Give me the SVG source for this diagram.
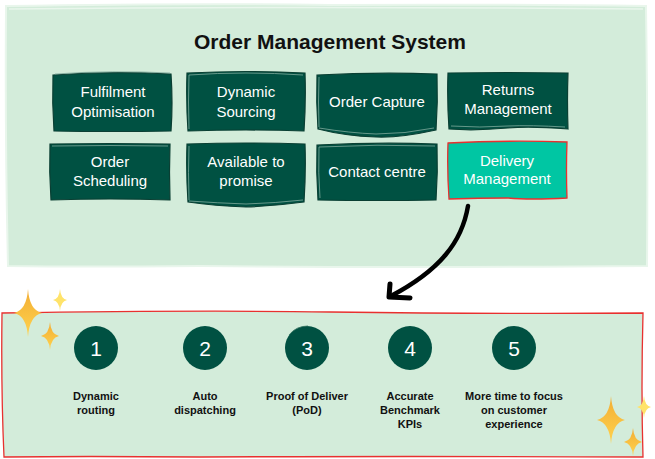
<svg xmlns="http://www.w3.org/2000/svg" width="655" height="459" viewBox="0 0 655 459">
<defs>
<style>
.panel{fill:#d3ecda;stroke:#e9f6ec;stroke-width:2}
.box{fill:#005142;stroke:#0a3f33;stroke-width:1.2}
.boxhl{fill:#00c6a3;stroke:#e8302f;stroke-width:1.3}
.sk{fill:none;stroke:#7fa99c;stroke-width:0.8}
.bt{font-family:"Liberation Sans",Arial,sans-serif;font-size:15px;fill:#ffffff;text-anchor:middle}
.title{font-family:"Liberation Sans",Arial,sans-serif;font-size:21px;font-weight:bold;fill:#111111;text-anchor:middle}
.num{font-family:"Liberation Sans",Arial,sans-serif;font-size:21px;fill:#ffffff;text-anchor:middle}
.lab{font-family:"Liberation Sans",Arial,sans-serif;font-size:11px;font-weight:bold;fill:#111111;text-anchor:middle}
.circ{fill:#005142}
.gold{fill:url(#gg)}
.lite{fill:#ffe36a}
</style>
<linearGradient id="gg" x1="0" y1="0" x2="0" y2="1">
<stop offset="0" stop-color="#f2ad34"/>
<stop offset="1" stop-color="#ffd34e"/>
</linearGradient>
<path id="star" d="M0,-1 Q0.1,-0.12 1,0 Q0.1,0.12 0,1 Q-0.1,0.12 -1,0 Q-0.1,-0.12 0,-1Z"/>
</defs>

<g id="top-panel">
<path class="panel" d="M6,6 Q200,3 330,5 Q500,4 646,6 Q648,140 647,266 Q400,268 200,266 Q80,267 8,266 Q5,140 6,6Z"/>
<path fill="none" stroke="#e9f6ec" stroke-width="1.5" d="M9,9 Q300,6 643,9"/>
</g>

<text class="title" x="330" y="49">Order Management System</text>

<g id="node-fulfilment">
<path class="box" d="M53,75 Q110,71 171,74 Q173,103 171,131 Q110,132 54,131 Q52,103 53,75Z"/>
<path class="sk" d="M55,74 Q112,70 170,73"/>
<text class="bt" x="113" y="97">Fulfilment</text>
<text class="bt" x="113" y="117">Optimisation</text>
</g>

<g id="node-dynamic-sourcing">
<path class="box" d="M187,73 Q246,70 305,73 Q306,102 304,131 Q246,129 188,131 Q186,102 187,73Z"/>
<path class="sk" d="M189,75 Q246,71 303,75"/>
<path class="sk" d="M189,75 Q188,102 189,129"/>
<text class="bt" x="246" y="97">Dynamic</text>
<text class="bt" x="246" y="117">Sourcing</text>
</g>

<g id="node-order-capture">
<path class="box" d="M317,75 Q377,72 437,74 Q438,102 436,130 Q400,138 376,137 Q345,136 318,129 Q316,102 317,75Z"/>
<path class="sk" d="M319,128 Q350,133 376,134 Q405,134 434,128"/>
<path class="sk" d="M319,77 Q318,102 319,127"/>
<text class="bt" x="377" y="107">Order Capture</text>
</g>

<g id="node-returns">
<path class="box" d="M448,73 Q508,72 568,73 Q567,100 568,129 Q530,126 508,128 Q475,131 449,129 Q447,100 448,73Z"/>
<path class="sk" d="M451,126 Q480,128 508,126 Q530,125 565,127"/>
<text class="bt" x="508" y="95">Returns</text>
<text class="bt" x="508" y="114">Management</text>
</g>

<g id="node-order-scheduling">
<path class="box" d="M50,144 Q110,143 170,144 Q169,172 170,200 Q110,198 51,200 Q49,172 50,144Z"/>
<path class="sk" d="M52,146 Q110,145 168,146"/>
<text class="bt" x="110" y="167">Order</text>
<text class="bt" x="110" y="186">Scheduling</text>
</g>

<g id="node-available">
<path class="box" d="M187,144 Q246,142 305,144 Q306,172 304,202 Q275,206 246,207 Q215,206 188,202 Q186,172 187,144Z"/>
<path class="sk" d="M189,201 Q218,203 246,204 Q276,203 303,200"/>
<path class="sk" d="M189,146 Q188,172 189,200"/>
<text class="bt" x="246" y="167">Available to</text>
<text class="bt" x="246" y="186">promise</text>
</g>

<g id="node-contact-centre">
<path class="box" d="M317,145 Q377,142 437,144 Q438,172 436,200 Q377,201 318,200 Q316,172 317,145Z"/>
<path class="sk" d="M319,147 Q377,144 435,146"/>
<path class="sk" d="M319,147 Q318,172 320,198"/>
<text class="bt" x="377" y="177">Contact centre</text>
</g>

<g id="node-delivery">
<path class="boxhl" d="M448,143 Q508,140 567,142 Q566,170 567,198 Q530,200 508,198 Q478,198 449,199 Q447,170 448,143Z"/>
<text class="bt" x="507" y="166">Delivery</text>
<text class="bt" x="507" y="184">Management</text>
</g>

<g id="connectors">
<path d="M468,206 C462,242 440,270 391,296" fill="none" stroke="#000000" stroke-width="4.5" stroke-linecap="round"/>
<path d="M390,284 L389,297 L410,298" fill="none" stroke="#000000" stroke-width="5" stroke-linecap="round" stroke-linejoin="round"/>
</g>

<g id="bottom-panel">
<path d="M2,313 Q200,310 330,312 Q500,314 643,313 Q641,390 643,457 Q400,456 200,457 Q80,456 4,457 Q1,390 2,313Z" fill="#d3ecda" stroke="#e8302f" stroke-width="1.3"/>
</g>

<g id="step-1">
<ellipse class="circ" cx="96" cy="348" rx="22" ry="22"/>
<text class="num" x="96" y="356">1</text>
<text class="lab" x="96" y="400">Dynamic</text>
<text class="lab" x="96" y="414">routing</text>
</g>
<g id="step-2">
<ellipse class="circ" cx="205" cy="348" rx="22" ry="22"/>
<text class="num" x="205" y="356">2</text>
<text class="lab" x="205" y="400">Auto</text>
<text class="lab" x="205" y="414">dispatching</text>
</g>
<g id="step-3">
<ellipse class="circ" cx="307" cy="348" rx="22" ry="22"/>
<path d="M289,335 Q296,326 308,326" fill="none" stroke="#2d6e5c" stroke-width="0.8"/>
<text class="num" x="307" y="356">3</text>
<text class="lab" x="307" y="400">Proof of Deliver</text>
<text class="lab" x="307" y="414">(PoD)</text>
</g>
<g id="step-4">
<ellipse class="circ" cx="410" cy="348" rx="22" ry="22"/>
<text class="num" x="410" y="356">4</text>
<text class="lab" x="410" y="400">Accurate</text>
<text class="lab" x="410" y="414">Benchmark</text>
<text class="lab" x="410" y="428">KPIs</text>
</g>
<g id="step-5">
<ellipse class="circ" cx="514" cy="348" rx="22" ry="22"/>
<text class="num" x="514" y="356">5</text>
<text class="lab" x="514" y="400">More time to focus</text>
<text class="lab" x="514" y="414">on customer</text>
<text class="lab" x="514" y="428">experience</text>
</g>

<g id="sparkles">
<use href="#star" class="gold" transform="translate(28,313) scale(14,24)"/>
<use href="#star" class="gold" transform="translate(50,336) scale(9,14)"/>
<use href="#star" class="lite" transform="translate(60,300) scale(7,11)"/>
<use href="#star" class="gold" transform="translate(611,420) scale(14,24)"/>
<use href="#star" class="gold" transform="translate(633,442) scale(9,14)"/>
<use href="#star" class="lite" transform="translate(644,407) scale(7,11)"/>
</g>
</svg>
